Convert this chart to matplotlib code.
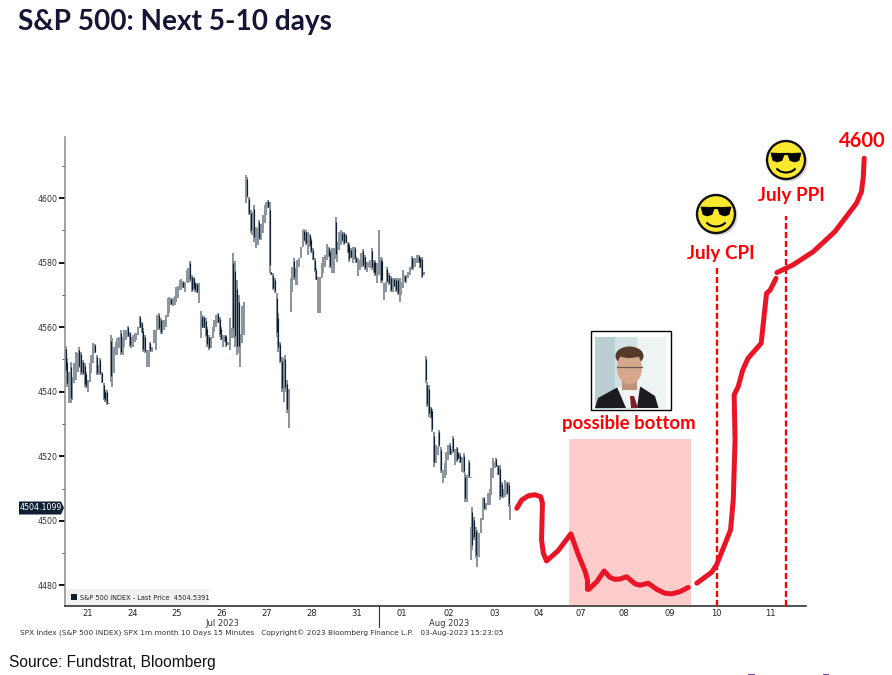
import matplotlib
matplotlib.use("Agg")
import matplotlib.pyplot as plt
from matplotlib.patches import Rectangle, Circle, Ellipse, Polygon, Arc

# ---- data: 15 minute high / low bars per session ----
sessions = ["21", "24", "25", "26", "27", "28", "31", "01", "02", "03"]
high_21 = [4554.2,4550.4,4546.2,4549.3,4544.7,4548.8,4552.4,4551.9,4553.8,4552.4,4549.8,4548.8,4546.2,4543.6,4548.8,4551.4,4555.0,4554.8,4551.4,4548.3,4550.4,4546.2,4542.6,4540.5,4540.5,4536.6]
low_21 = [4545.7,4541.6,4536.4,4536.4,4537.5,4542.6,4543.6,4546.2,4547.3,4545.2,4545.2,4541.6,4541.1,4540.0,4543.1,4545.7,4548.8,4551.9,4545.2,4545.2,4545.2,4542.6,4537.5,4536.9,4535.9,4536.2]
high_24 = [4557.6,4556.5,4554.0,4555.5,4556.5,4557.0,4559.1,4557.0,4559.1,4559.1,4560.4,4558.6,4557.0,4557.6,4558.1,4558.1,4560.2,4563.5,4561.7,4559.6,4557.6,4552.9,4552.9,4555.5,4554.0,4559.1]
low_24 = [4543.1,4541.6,4545.7,4551.4,4551.4,4553.4,4551.4,4551.4,4554.0,4556.0,4557.0,4554.0,4553.4,4554.0,4555.5,4556.0,4557.6,4559.6,4558.1,4552.4,4551.9,4547.6,4547.8,4552.4,4552.4,4555.0]
high_25 = [4559.1,4563.8,4564.5,4562.7,4562.2,4562.2,4563.8,4568.9,4569.2,4568.9,4568.9,4569.5,4572.5,4572.8,4574.6,4574.8,4574.4,4574.1,4577.7,4578.2,4580.6,4576.2,4575.6,4574.1,4573.6,4573.6]
low_25 = [4553.0,4559.1,4559.1,4558.0,4558.0,4559.1,4560.2,4563.3,4564.3,4566.9,4566.4,4566.9,4567.9,4568.9,4571.5,4571.5,4572.0,4571.0,4574.1,4573.6,4574.1,4571.0,4571.5,4571.0,4570.5,4567.4]
high_26 = [4565.1,4563.8,4563.5,4562.7,4560.2,4557.6,4557.0,4560.2,4562.2,4563.8,4564.5,4563.3,4560.0,4557.6,4557.6,4557.6,4555.5,4562.7,4559.6,4582.9,4580.6,4574.6,4570.0,4558.0,4566.4,4567.9]
low_26 = [4556.5,4559.6,4559.6,4557.0,4554.0,4553.0,4553.4,4556.5,4558.6,4560.2,4561.2,4557.0,4556.0,4554.0,4555.5,4554.0,4554.5,4552.9,4556.5,4556.5,4554.0,4551.4,4551.9,4547.8,4555.0,4557.6]
high_27 = [4607.1,4606.6,4600.4,4596.3,4595.8,4597.8,4591.1,4590.6,4593.2,4592.1,4594.7,4597.8,4598.9,4599.4,4598.9,4577.2,4576.9,4575.1,4570.5,4564.3,4555.5,4550.9,4550.4,4551.4,4543.6,4541.0]
low_27 = [4598.3,4599.9,4594.7,4589.1,4588.5,4586.5,4584.4,4585.4,4587.0,4587.0,4589.1,4592.2,4594.7,4596.8,4576.7,4576.2,4571.5,4570.5,4557.0,4552.4,4548.8,4540.0,4536.9,4540.0,4533.3,4528.7]
high_28 = [4575.1,4578.7,4581.3,4578.2,4580.8,4581.3,4584.9,4590.1,4590.3,4590.1,4589.6,4589.0,4587.5,4584.4,4581.3,4578.2,4575.6,4575.6,4579.8,4581.8,4582.4,4585.8,4584.9,4583.9,4584.4,4584.4]
low_28 = [4564.8,4571.0,4574.6,4573.0,4573.0,4578.7,4581.3,4584.9,4586.5,4585.4,4582.4,4584.9,4582.9,4580.8,4577.2,4574.6,4564.3,4564.3,4575.1,4576.7,4578.7,4580.8,4581.8,4578.2,4576.7,4576.7]
high_31 = [4594.0,4586.5,4589.6,4590.1,4589.6,4589.6,4589.0,4586.5,4586.0,4584.4,4584.9,4584.9,4581.8,4581.3,4580.8,4582.9,4584.1,4582.4,4580.3,4580.3,4580.8,4584.4,4580.8,4580.8,4579.8,4590.1]
low_31 = [4581.0,4580.3,4583.9,4585.5,4586.5,4585.5,4586.0,4582.9,4580.3,4581.3,4579.8,4580.8,4579.8,4575.7,4577.7,4578.7,4578.7,4577.7,4577.2,4578.7,4578.2,4577.7,4576.7,4575.7,4573.6,4576.2]
high_01 = [4581.8,4581.3,4573.6,4574.1,4578.7,4576.7,4575.7,4575.1,4575.1,4575.1,4575.1,4575.1,4574.1,4577.7,4576.2,4576.2,4577.2,4578.7,4582.0,4581.3,4581.3,4582.4,4582.4,4581.8,4581.8,4577.2]
low_01 = [4573.6,4573.6,4568.4,4571.0,4573.6,4573.1,4571.0,4571.0,4572.5,4571.0,4570.0,4567.9,4570.0,4572.0,4574.1,4573.6,4575.1,4576.2,4577.7,4577.7,4578.7,4579.8,4579.8,4578.2,4575.1,4576.2]
high_02 = [4551.0,4543.1,4542.0,4535.4,4534.8,4527.6,4523.5,4523.0,4528.1,4523.0,4515.7,4517.8,4521.4,4523.5,4524.0,4522.4,4526.3,4522.4,4523.0,4521.4,4520.9,4519.9,4520.9,4514.7,4514.2,4518.8,4513.7]
low_02 = [4542.6,4535.4,4532.2,4531.7,4527.6,4516.8,4517.8,4520.4,4523.0,4514.7,4511.6,4513.2,4514.2,4518.8,4520.4,4520.4,4520.9,4517.3,4518.3,4519.3,4517.8,4515.2,4514.7,4505.9,4505.9,4513.2,4513.2]
high_03 = [4498.2,4504.4,4501.3,4498.2,4497.2,4496.1,4500.8,4507.0,4507.5,4505.4,4508.5,4510.0,4516.3,4519.4,4518.3,4519.4,4517.3,4517.3,4512.1,4510.0,4512.6,4512.1,4512.1,4504.9]
low_03 = [4487.9,4491.0,4494.0,4488.4,4485.8,4488.9,4496.1,4500.3,4503.4,4503.4,4504.9,4504.9,4508.0,4513.2,4516.3,4516.8,4514.2,4506.4,4507.0,4507.0,4507.5,4508.0,4504.4,4500.3]
highs = [high_21, high_24, high_25, high_26, high_27, high_28, high_31, high_01, high_02, high_03]
lows = [low_21, low_24, low_25, low_26, low_27, low_28, low_31, low_01, low_02, low_03]

# ---- hand-drawn projection (session units, price) ----
path1_x = [10.04,10.15,10.30,10.44,10.57,10.61,10.59,10.63,10.70,10.96,11.24,11.41,11.56,11.61,11.61,11.64,11.82,11.98,12.11,12.22,12.33,12.48,12.67,12.78,12.96,13.15,13.33,13.48,13.67,13.85]
path1_y = [4503.9,4506.5,4507.8,4508.1,4507.5,4505.5,4494.1,4490.0,4487.6,4490.8,4496.0,4489.4,4484.3,4481.7,4478.8,4478.8,4481.2,4484.5,4482.5,4481.9,4482.0,4482.7,4480.5,4480.1,4480.7,4478.8,4477.6,4477.4,4478.1,4479.4]
path2_x = [14.04,14.37,14.48,14.79,14.85,14.89,14.87,14.96,15.06,15.18,15.47,15.59,15.67,15.80]
path2_y = [4480.7,4484.1,4486.4,4497.2,4506.5,4525.1,4539.0,4541.6,4546.7,4550.4,4555.0,4570.5,4571.5,4575.1]
path3_x = [15.82,16.18,16.63,17.11,17.59,17.70,17.74,17.76]
path3_y = [4576.9,4579.3,4583.4,4589.6,4598.4,4602.0,4606.6,4612.3]

x_labels = ["21","24","25","26","27","28","31","01","02","03","04","07","08","09","10","11"]
x_label_pos = [0.51,1.50,2.49,3.49,4.49,5.49,6.49,7.49,8.53,9.56,10.53,11.47,12.42,13.44,14.47,15.67]
y_major = [4480,4500,4520,4540,4560,4580,4600]
y_minor = [4490,4510,4530,4550,4570,4590,4610]
zone_x = (11.20, 13.91)
zone_top = 4525.3
cpi_x, cpi_top = 14.49, 4578.3
ppi_x, ppi_top = 16.02, 4594.4

W, H = 892, 675
RED = "#ff0000"
DRAW = "#ea1427"
NAVY = "#0f1f33"
fig = plt.figure(figsize=(W/100, H/100), dpi=100, facecolor="white")
ax = fig.add_axes([65/W, 1-606/H, (806-65)/W, (606-137)/H])
ax.set_xlim(0, (806-65)/45)
ax.set_ylim(4600-(606-198)/3.229, 4600+(198-137)/3.229)

ylo, yhi = ax.get_ylim()
ax.axvspan(zone_x[0], zone_x[1], ymin=0.003, ymax=(zone_top-ylo)/(yhi-ylo), color="#ffcccc", lw=0, zorder=1)

# bars
for k, (hs, ls) in enumerate(zip(highs, lows)):
    for j, (h, l) in enumerate(zip(hs, ls)):
        x = k + (j + 0.3) / 26
        ax.vlines(x, l, h, color="#8d969f", lw=1.45, zorder=3)
    for j, (h, l) in enumerate(zip(hs, ls)):
        x = k + (j + 0.3) / 26
        if j + 1 < len(hs) and (hs[j+1] + ls[j+1]) < (h + l):
            ax.vlines(x, l + (h-l)*0.12, h - (h-l)*0.12, color=NAVY, lw=0.85, zorder=4)

for px_, py_ in ((cpi_x, cpi_top), (ppi_x, ppi_top)):
    ax.plot([px_, px_], [ylo, py_], color=RED, lw=1.7, dashes=(2.6, 1.2), zorder=5, clip_on=False)

for xs, ys in ((path1_x, path1_y), (path2_x, path2_y), (path3_x, path3_y)):
    ax.plot(xs, ys, color=DRAW, lw=3.6, solid_capstyle="round", solid_joinstyle="round", zorder=6, clip_on=False)

ax.set_xticks(x_label_pos, x_labels)
ax.set_yticks(y_major)
ax.set_yticks(y_minor, minor=True)
ax.tick_params(axis="x", length=0, pad=2.5, labelsize=6, labelcolor="#222222")
ax.tick_params(axis="y", which="major", length=4, width=1.4, pad=1.2, labelsize=5.7, labelcolor="#333333", color="#111111")
ax.tick_params(axis="y", which="minor", length=2, width=0.7, color="#555555")
for s in ("top", "right"):
    ax.spines[s].set_visible(False)
ax.spines["left"].set_color("#8a8a8a")
ax.spines["left"].set_linewidth(1.1)
ax.spines["bottom"].set_color("#222222")
ax.spines["bottom"].set_linewidth(1.1)

# overlay in pixel coordinates for annotations
ov = fig.add_axes([0, 0, 1, 1], facecolor="none")
ov.set_xlim(0, W); ov.set_ylim(H, 0); ov.axis("off")

ov.text(18, 22, "S&P 500: Next 5-10 days", fontfamily="Lato", fontweight="bold", fontsize=20.2, color="#151535", va="center", ha="left")
ov.text(9, 662, "Source: Fundstrat, Bloomberg", fontfamily="Liberation Sans", fontsize=11.2, color="#111111", va="center")
ov.text(20, 633.5, "SPX Index (S&P 500 INDEX) SPX 1m month 10 Days 15 Minutes   Copyright\u00a9 2023 Bloomberg Finance L.P.   03-Aug-2023 15:23:05",
        fontsize=5.3, color="#333333", va="center")
ov.text(222, 623, "Jul 2023", fontsize=6, color="#333333", ha="center", va="center")
ov.text(449, 623, "Aug 2023", fontsize=6, color="#333333", ha="center", va="center")
ov.plot([379, 379], [606, 627], color="#333333", lw=0.8)

# legend & last-price tag
ov.add_patch(Rectangle((67, 589), 142, 15.5, fc="#f1f1f1", ec="none"))
ov.add_patch(Rectangle((71, 594), 6, 6, fc=NAVY, ec="none"))
ov.text(80.5, 597.5, "S&P 500 INDEX - Last Price  4504.5391", fontsize=4.8, color="#222222", va="center")
ov.add_patch(Polygon([(19, 501.5), (61, 501.5), (64, 508), (61, 514.5), (19, 514.5)], fc=NAVY, ec="none"))
ov.text(41, 508, "4504.1099", fontsize=5.7, color="white", ha="center", va="center")

# labels
cond = "Lato"
ov.text(629, 423.5, "possible bottom", fontfamily=cond, fontweight="bold", fontsize=13.4, color=RED, ha="center", va="center")
ov.text(720.5, 253, "July CPI", fontfamily=cond, fontweight="bold", fontsize=13.6, color=RED, ha="center", va="center")
ov.text(791, 196, "July PPI", fontfamily=cond, fontweight="bold", fontsize=13.6, color=RED, ha="center", va="center")
ov.text(862, 141, "4600", fontfamily=cond, fontweight="bold", fontsize=14.5, color=RED, ha="center", va="center")

# smileys
def smiley(cx, cy):
    ov.add_patch(Circle((cx+2, cy+2), 19.5, fc="#bbbbbb", ec="none", alpha=0.6))
    ov.add_patch(Circle((cx, cy), 19, fc="#fbe92f", ec="#111111", lw=1.7))
    for sgn in (-1, 1):
        ov.add_patch(Polygon([(cx+sgn*1.5, cy-6.5), (cx+sgn*15, cy-7), (cx+sgn*13, cy+0.5), (cx+sgn*9, cy+2), (cx+sgn*4, cy+0.5)],
                             fc="black", ec="black", lw=0.5, closed=True))
    ov.plot([cx-3, cx+3], [cy-6, cy-6], color="black", lw=1.6)
    ov.add_patch(Arc((cx, cy+4), 22, 17, theta1=25, theta2=155, ec="black", lw=1.5))
smiley(716, 214)
smiley(786, 160)

# portrait
ov.add_patch(Rectangle((590.5, 330.5), 80, 79, fc="white", ec="black", lw=1))
ov.add_patch(Rectangle((595, 337), 71, 71.5, fc="#eef3f4", ec="none"))
ov.add_patch(Rectangle((595, 337), 20, 71.5, fc="#b9cfd4", ec="none"))
ov.add_patch(Rectangle((615, 337), 22, 71.5, fc="#d2e1e4", ec="none"))
ov.add_patch(Polygon([(595, 408), (598, 398), (618, 387), (641, 387), (655, 396), (658.5, 408)], fc="#1b1c22", ec="none"))
ov.add_patch(Polygon([(617, 387), (640, 387), (637, 408), (626, 408)], fc="#f2f2f6", ec="none"))
ov.add_patch(Polygon([(630, 396), (634, 396), (638, 408), (631, 408)], fc="#7a1f2b", ec="none"))
ov.add_patch(Rectangle((622, 378), 15, 12, fc="#c0917a", ec="none"))
ov.add_patch(Ellipse((629.5, 356), 28, 19, fc="#55392b", ec="none"))
ov.add_patch(Ellipse((629.5, 368), 25, 33, fc="#d6a78c", ec="none"))
ov.add_patch(Ellipse((629.5, 353), 25, 10, fc="#55392b", ec="none"))
ov.plot([617, 642], [366.5, 366.5], color="#665a55", lw=0.9)

# cropped purple fragments along the bottom edge
ov.add_patch(Rectangle((748, 673.5), 7, 1.5, fc="#6a3fc0", ec="none"))
ov.add_patch(Rectangle((823, 673.5), 6, 1.5, fc="#6a3fc0", ec="none"))

fig.savefig("out.png", dpi=100, facecolor="white")
